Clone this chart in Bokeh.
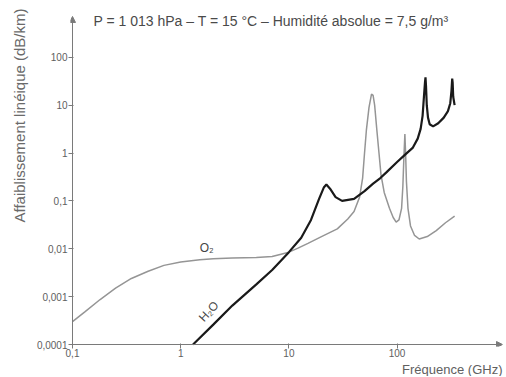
from bokeh.plotting import figure
from bokeh.models import Label, Arrow, NormalHead, FixedTicker, Title
from bokeh.embed import file_html
from bokeh.resources import INLINE
import math

# ---- data ----
o2_freq = [0.1, 0.13, 0.18, 0.25, 0.35, 0.5, 0.7, 1, 1.5, 2, 3, 5, 7, 10, 12, 15, 20, 28, 35,
           40, 45, 48, 50, 52, 55, 58, 60, 62, 65, 68, 71, 76, 85, 92, 98, 104, 110, 113, 115.5,
           118, 120, 122, 126, 133, 145, 160, 190, 230, 280, 340]
o2_att = [3.0e-4, 4.8e-4, 8.7e-4, 1.5e-3, 2.4e-3, 3.4e-3, 4.5e-3, 5.3e-3, 5.9e-3, 6.2e-3,
          6.4e-3, 6.6e-3, 6.9e-3, 8.5e-3, 1.02e-2, 1.3e-2, 1.8e-2, 2.6e-2, 4.2e-2,
          0.06, 0.12, 0.3, 1.0, 3.0, 9.0, 17.0, 16.0, 10.0, 3.0, 1.0, 0.35, 0.15, 0.07, 0.045,
          0.036, 0.04, 0.07, 0.2, 0.8, 2.5, 0.9, 0.25, 0.07, 0.03, 0.019, 0.016, 0.018,
          0.024, 0.035, 0.048]

h2o_freq = [1.3, 2, 3, 5, 7, 10, 13, 16, 19, 21, 22.2, 24, 27, 31, 40, 50, 60, 70, 80, 100,
            120, 140, 155, 165, 172, 177, 181, 183, 185, 188, 193, 200, 215, 240, 270, 295,
            310, 318, 323, 326, 330, 340]
h2o_att = [1.0e-4, 2.6e-4, 6.5e-4, 1.8e-3, 3.6e-3, 8.5e-3, 0.017, 0.04, 0.11, 0.19, 0.22,
           0.18, 0.12, 0.1, 0.11, 0.16, 0.23, 0.3, 0.4, 0.65, 0.95, 1.3, 2.0, 3.2, 6.0,
           15.0, 30.0, 38.0, 25.0, 10.0, 5.5, 4.0, 3.6, 4.2, 5.5, 7.5, 11.0, 20.0, 36.0,
           30.0, 15.0, 10.0]

x_ticks = [0.1, 1, 10, 100]
x_tick_labels = ["0,1", "1", "10", "100"]
y_ticks = [0.0001, 0.001, 0.01, 0.1, 1, 10, 100]
y_tick_labels = ["0,0001", "0,001", "0,01", "0,1", "1", "10", "100"]

title_text = "P = 1 013 hPa \u2013 T = 15 \u00b0C \u2013 Humidit\u00e9 absolue = 7,5 g/m\u00b3"
x_label_text = "Fr\u00e9quence (GHz)"
y_label_text = "Affaiblissement lin\u00e9ique (dB/km)"

FONT = "Liberation Sans"
TXT = "#606060"
AX = "#7a7a7a"

X_ORIG, Y_ORIG = 0.1, 1e-4          # axes origin
X_ARROW, Y_ARROW = 942, 714         # arrow tips
X_MIN = X_ORIG * 10 ** (-2 / 108)
Y_MIN = Y_ORIG * 10 ** (-2 / 48)
X_MAX = 942
Y_MAX = 1047

p = figure(width=504, height=376, x_axis_type="log", y_axis_type="log",
           x_range=(X_MIN, X_MAX), y_range=(Y_MIN, Y_MAX),
           output_backend="svg", toolbar_location=None,
           min_border_left=70, min_border_right=2, min_border_top=8, min_border_bottom=29)
p.outline_line_color = None
p.grid.visible = False
p.background_fill_color = "white"

for ax, ticks, labels in ((p.xaxis[0], x_ticks, x_tick_labels), (p.yaxis[0], y_ticks, y_tick_labels)):
    ax.ticker = FixedTicker(ticks=ticks)
    ax.major_label_overrides = dict(zip(ticks, labels))
    ax.axis_line_color = None
    ax.major_tick_line_color = AX
    ax.major_tick_in = 3
    ax.major_tick_out = 2
    ax.minor_tick_line_color = None
    ax.major_label_text_font = FONT
    ax.major_label_text_font_size = "10px"
    ax.major_label_text_color = TXT
    ax.major_label_standoff = 1
p.xaxis[0].major_label_standoff = 0

# axis lines with arrows
p.add_layout(Arrow(end=NormalHead(size=6, fill_color=AX, line_color=AX),
                   x_start=X_ORIG, y_start=Y_ORIG, x_end=X_ORIG, y_end=Y_ARROW,
                   line_color=AX, line_width=1))
p.add_layout(Arrow(end=NormalHead(size=6, fill_color=AX, line_color=AX),
                   x_start=X_ORIG, y_start=Y_ORIG, x_end=X_ARROW, y_end=Y_ORIG,
                   line_color=AX, line_width=1))

# curves
p.line(o2_freq, o2_att, line_color="#959595", line_width=1.5)
p.line(h2o_freq, h2o_att, line_color="#1a1a1a", line_width=2.2)

# curve labels
p.add_layout(Label(x=1.74, y=0.0105, text="O\u2082", text_font=FONT, text_font_size="12px",
                   text_color="#444444", text_align="center", text_baseline="middle"))
p.add_layout(Label(x=1.82, y=4.9e-4, text="H\u2082O", text_font=FONT, text_font_size="12px",
                   text_color="#444444", text_align="center", text_baseline="middle",
                   angle=math.radians(47)))

# conditions line inside the frame
p.add_layout(Label(x=23, y=326, x_units="screen", y_units="screen", text=title_text,
                   text_font=FONT, text_font_size="14px", text_color="#4a4a4a",
                   text_align="left", text_baseline="middle"))

# axis titles
p.add_layout(Title(text=x_label_text, align="right", standoff=0, offset=0,
                   text_font=FONT, text_font_size="13px", text_font_style="normal",
                   text_color=TXT), "below")
p.add_layout(Title(text=y_label_text, align="right", standoff=12, offset=0,
                   text_font=FONT, text_font_size="15px", text_font_style="normal",
                   text_color="#6a6a6a"), "left")

open("out.html", "w").write(file_html(p, INLINE))
